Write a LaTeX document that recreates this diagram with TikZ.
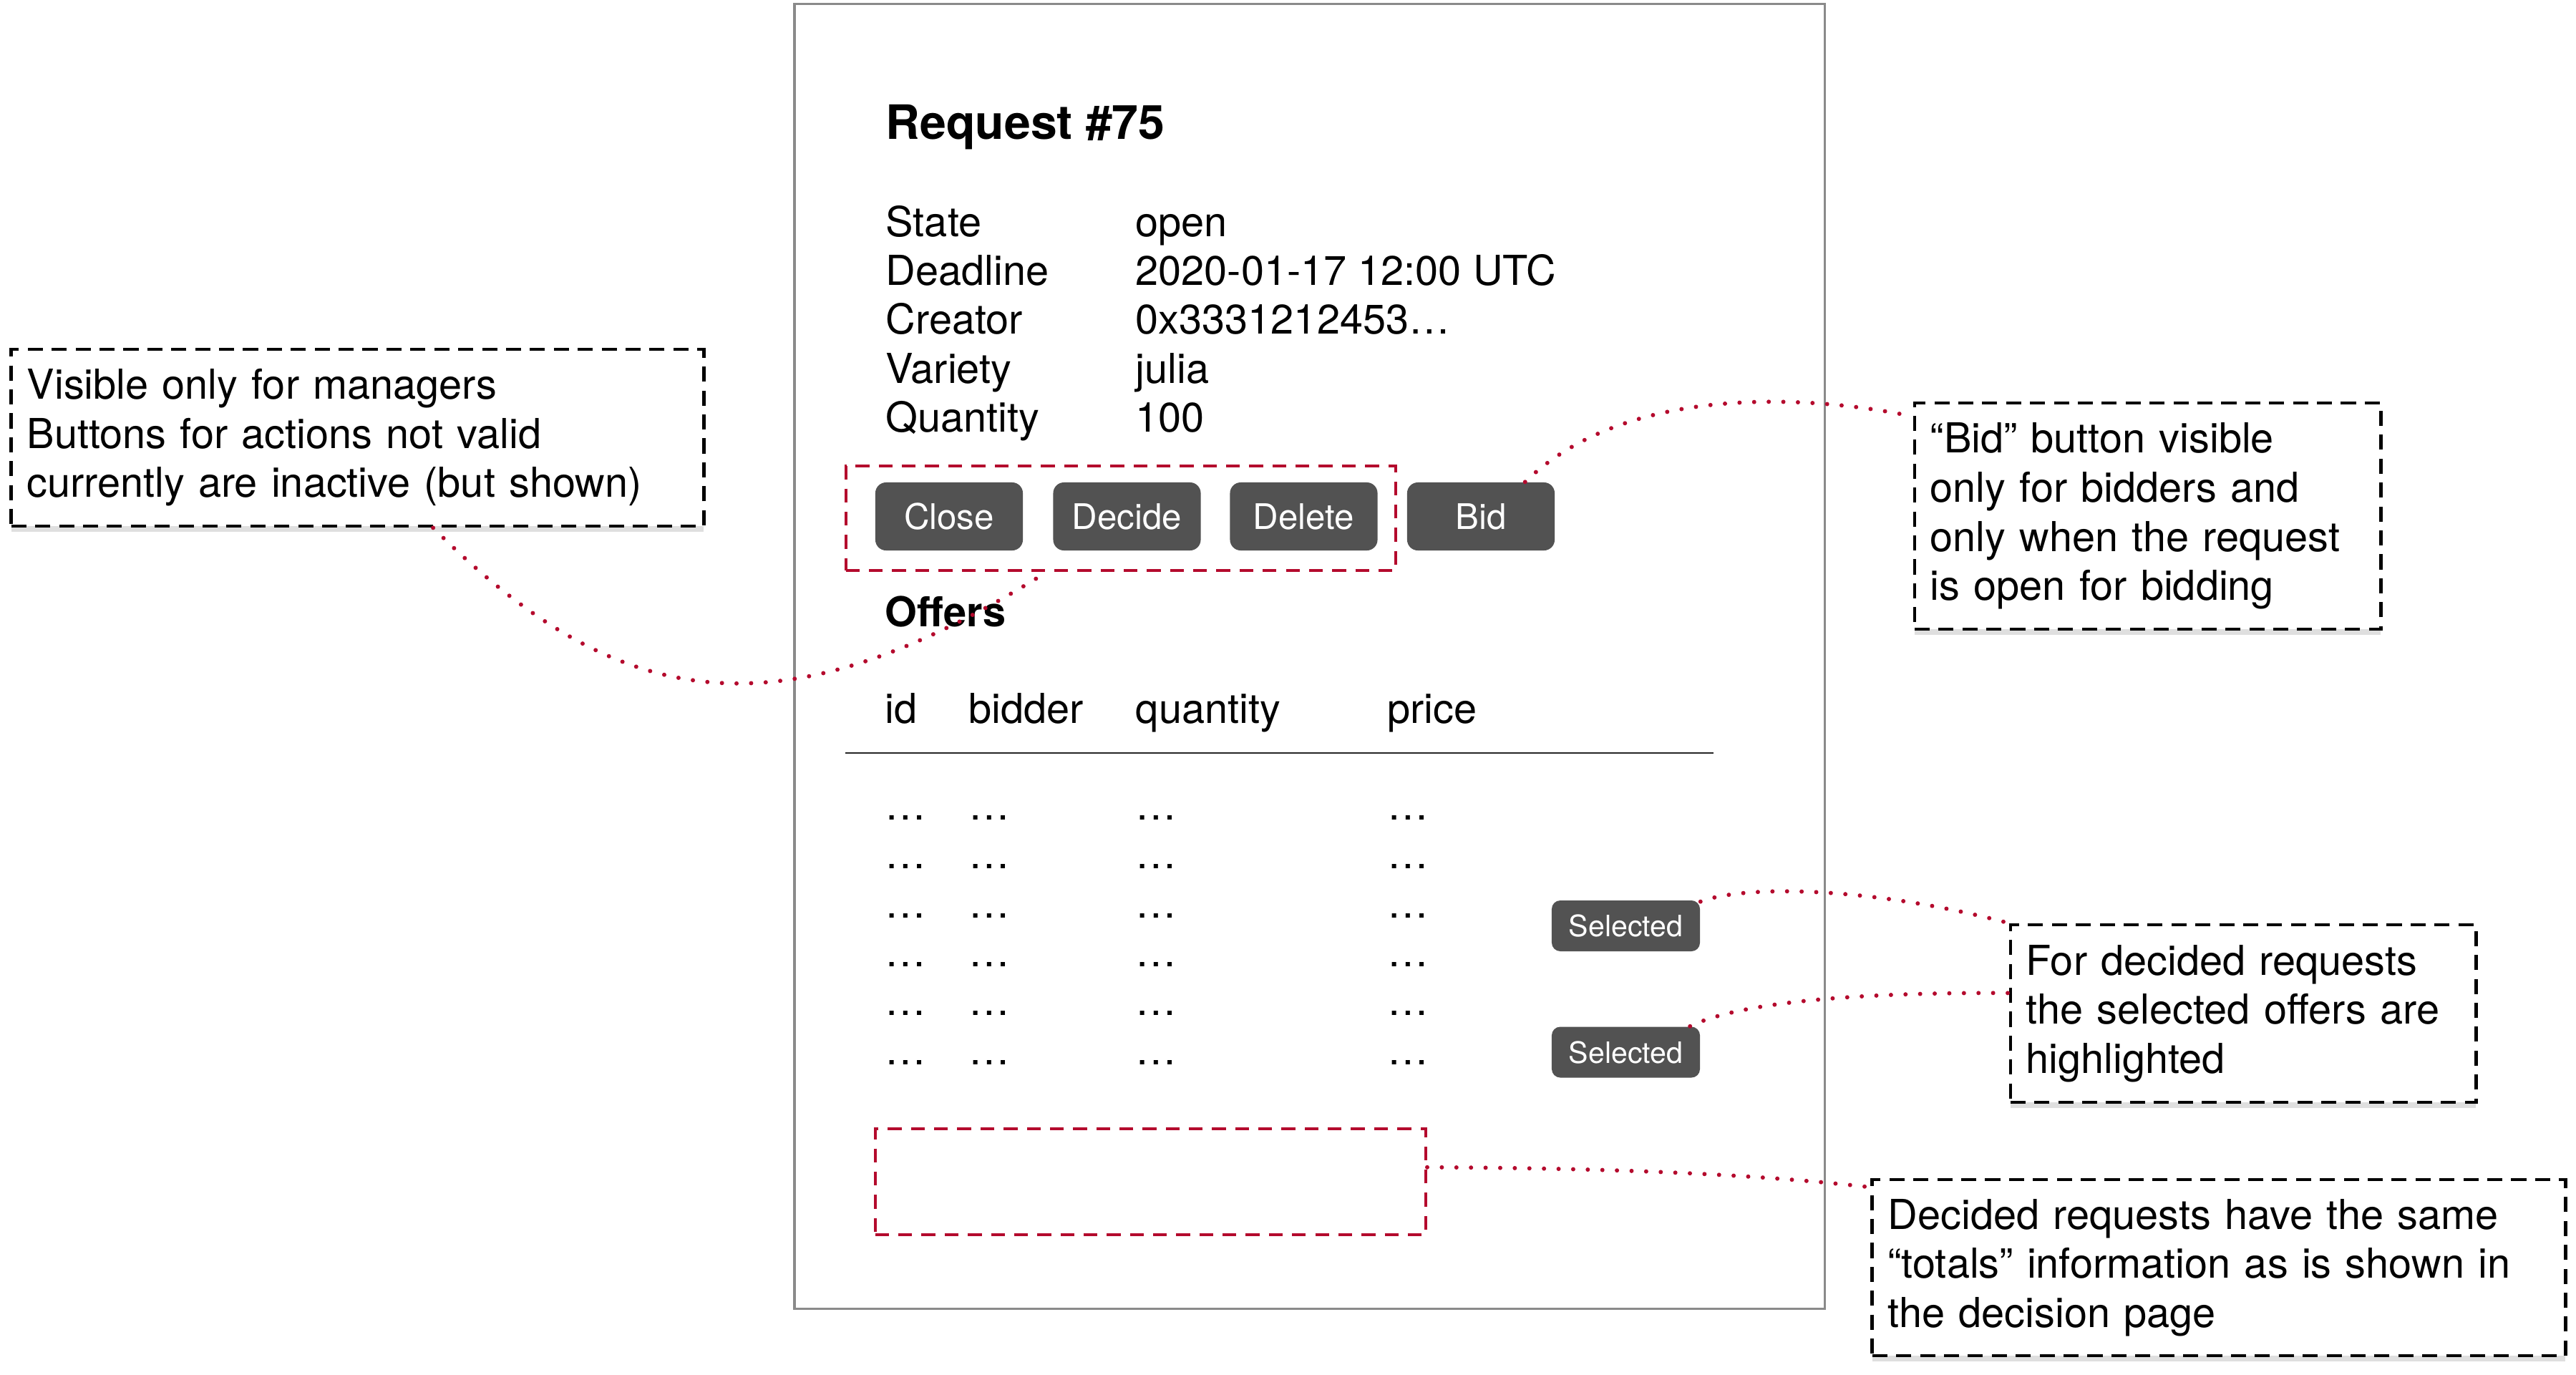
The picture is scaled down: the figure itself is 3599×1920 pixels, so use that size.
\documentclass[tikz,border=0pt]{standalone}
\usepackage{fontspec}
\setmainfont{TeX Gyre Heros}
\usetikzlibrary{shadows}
\definecolor{notered}{RGB}{180,10,45}
\definecolor{btngray}{RGB}{82,82,82}
\definecolor{framegray}{RGB}{138,138,138}

\begin{document}
\begin{tikzpicture}[x=0.01cm, y=-0.01cm,
  txt/.style={anchor=base west, inner sep=0pt, font=\fontsize{16.4}{19.5}\selectfont},
  head/.style={anchor=base west, inner sep=0pt, font=\fontsize{16.4}{19.5}\selectfont\bfseries},
  btn/.style={fill=btngray, rounded corners=0.15cm, text=white, inner sep=0pt,
    minimum width=2.06cm, minimum height=0.95cm, font=\fontsize{14}{16}\selectfont},
  tag/.style={btn, rounded corners=0.12cm, minimum width=2.07cm, minimum height=0.71cm,
    font=\fontsize{11.7}{14}\selectfont},
  redbox/.style={draw=notered, line width=1pt, dash pattern=on 5.5pt off 3.7pt, inner sep=0pt},
  note/.style={draw, line width=1.3pt, dash pattern=on 6pt off 3.5pt, fill=white, align=left,
    inner xsep=0.22cm, inner ysep=0pt, font=\fontsize{16.4}{19.5}\selectfont,
    drop shadow={shadow xshift=0pt, shadow yshift=-0.08cm, opacity=0.25}},
  link/.style={notered, line width=1.7pt, dash pattern=on 0pt off 5.8pt, line cap=round}]
  \useasboundingbox (0,0) rectangle (3599,1920);

  \node[draw=framegray, line width=1.1pt, minimum width=14.39cm, minimum height=18.22cm, inner sep=0pt] (page) at (1829.5,917) {};

  \node[head, font=\fontsize{18.8}{22}\selectfont\bfseries] (title) at (1237,194) {Request \#75};
  \node[txt] (st) at (1237,330) {State};
  \node[txt] (stv) at (1586,330) {open};
  \node[txt] (dl) at (1237,398) {Deadline};
  \node[txt] (dlv) at (1586,398) {2020-01-17 12:00 UTC};
  \node[txt] (cr) at (1237,466) {Creator};
  \node[txt] (crv) at (1586,466) {0x3331212453…};
  \node[txt] (vr) at (1237,535) {Variety};
  \node[txt] (vrv) at (1586,535) {julia};
  \node[txt] (qt) at (1237,603) {Quantity};
  \node[txt] (qtv) at (1586,603) {100};

  \node[redbox, minimum width=7.68cm, minimum height=1.46cm] (mgrbox) at (1566,724) {};
  \node[btn] (close) at (1326,721.5) {Close};
  \node[btn] (decide) at (1574.5,721.5) {Decide};
  \node[btn] (delete) at (1821.5,721.5) {Delete};
  \node[btn] (bid) at (2069,721.5) {Bid};

  \node[head] (offers) at (1236,875) {Offers};
  \node[txt] (hid) at (1236,1010) {id};
  \node[txt] (hbd) at (1353,1010) {bidder};
  \node[txt] (hqt) at (1586,1010) {quantity};
  \node[txt] (hpr) at (1938,1010) {price};
  \draw[line width=0.7pt, black!85] (1181,1052) -- (2394,1052);

  \node[txt] (r1a) at (1236,1145) {…};
  \node[txt] (r1b) at (1353,1145) {…};
  \node[txt] (r1c) at (1586,1145) {…};
  \node[txt] (r1d) at (1938,1145) {…};
  \node[txt] (r2a) at (1236,1213) {…};
  \node[txt] (r2b) at (1353,1213) {…};
  \node[txt] (r2c) at (1586,1213) {…};
  \node[txt] (r2d) at (1938,1213) {…};
  \node[txt] (r3a) at (1236,1282) {…};
  \node[txt] (r3b) at (1353,1282) {…};
  \node[txt] (r3c) at (1586,1282) {…};
  \node[txt] (r3d) at (1938,1282) {…};
  \node[txt] (r4a) at (1236,1350) {…};
  \node[txt] (r4b) at (1353,1350) {…};
  \node[txt] (r4c) at (1586,1350) {…};
  \node[txt] (r4d) at (1938,1350) {…};
  \node[txt] (r5a) at (1236,1418) {…};
  \node[txt] (r5b) at (1353,1418) {…};
  \node[txt] (r5c) at (1586,1418) {…};
  \node[txt] (r5d) at (1938,1418) {…};
  \node[txt] (r6a) at (1236,1487) {…};
  \node[txt] (r6b) at (1353,1487) {…};
  \node[txt] (r6c) at (1586,1487) {…};
  \node[txt] (r6d) at (1938,1487) {…};

  \node[tag] (sel1) at (2271.5,1293.5) {Selected};
  \node[tag] (sel2) at (2271.5,1470) {Selected};

  \node[redbox, minimum width=7.69cm, minimum height=1.48cm] (totbox) at (1607.5,1651) {};

  % callouts
  \node[note, text width=9.23cm, minimum height=2.47cm] (mgrnote) at (499.5,611.5)
    {Visible only for managers\\Buttons for actions not valid\\currently are inactive (but shown)};
  \node[note, text width=6.07cm, minimum height=3.16cm] (bidnote) at (3000.5,721)
    {“Bid” button visible\\only for bidders and\\only when the request\\is open for bidding};
  \node[note, text width=6.06cm, minimum height=2.48cm] (selnote) at (3134,1416)
    {For decided requests\\the selected offers are\\highlighted};
  \node[note, text width=9.24cm, minimum height=2.46cm] (totnote) at (3100,1771)
    {Decided requests have the same\\“totals” information as is shown in\\the decision page};

  \draw[link] (mgrnote.-50) .. controls (863,995) and (1087,1034) .. (mgrbox.-144);
  \draw[link] (bid.38) .. controls (2271,537) and (2525,551) .. (bidnote.157);
  \draw[link] (sel1.18) .. controls (2440,1235) and (2620,1240) .. (selnote.north west);
  \draw[link] (sel2.22) .. controls (2420,1405) and (2560,1386) .. (selnote.175);
  \draw[link] (totbox.3) .. controls (2250,1632) and (2450,1640) .. (totnote.167);
\end{tikzpicture}
\end{document}
